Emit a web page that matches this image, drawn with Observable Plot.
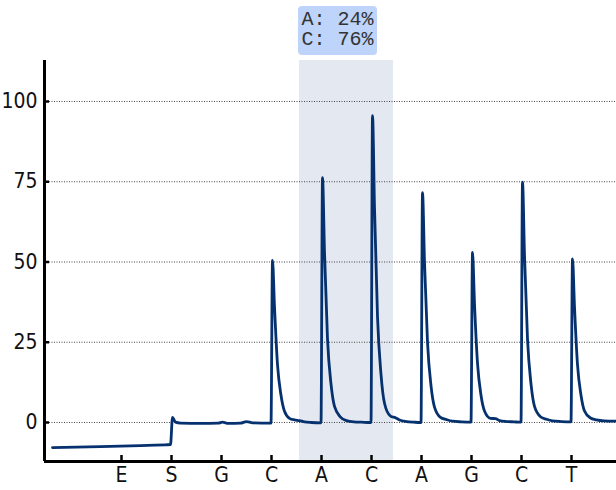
<!DOCTYPE html>
<html>
<head>
<meta charset="utf-8">
<script src="https://cdn.jsdelivr.net/npm/d3@7"></script>
<script src="https://cdn.jsdelivr.net/npm/@observablehq/plot@0.6"></script>
<style>
  html, body { margin: 0; padding: 0; background: #fff; }
  #chart { position: relative; width: 616px; height: 490px; }
  #label {
    position: absolute; top: 6px;
    background: #bed4fa; border-radius: 4px;
    padding: 3.5px 3px 5px 3.5px;
    font-family: "Liberation Mono", "DejaVu Sans Mono", monospace;
    font-size: 20px; line-height: 20px; color: #333;
    white-space: pre;
  }
</style>
</head>
<body>
<div id="chart"></div>
<script>
// Dispensation order (x tick labels), placed at positions 1..10
const dispensations = ["E", "S", "G", "C", "A", "C", "A", "G", "C", "T"];
const tickPositions = [1, 2, 3, 4, 5, 6, 7, 8, 9, 10];
const yTicks = [0, 25, 50, 75, 100];

// Highlighted variable position (A/C) and its allele percentages
const highlight = [{start: 4.56, end: 6.44}];
const alleles = ["A", "C"];
const percents = [24, 76];

// Pyrogram trace: time (dispensation units) and signal
const time = [
  -0.38, 0.58, 1.38, 1.88, 1.98,
  2.02, 2.08, 2.18, 2.58, 2.94, 3.02, 3.14, 3.38, 3.5, 3.62, 3.96,
  3.99, 4.02, 4.06, 4.12, 4.19, 4.26, 4.36, 4.46, 4.56, 4.66, 4.8, 4.98,
  4.99, 5.02, 5.06, 5.12, 5.19, 5.26, 5.38, 5.5, 5.65, 5.8, 5.98,
  5.99, 6.02, 6.06, 6.12, 6.19, 6.26, 6.38, 6.48, 6.56, 6.7, 6.85, 6.98,
  6.99, 7.02, 7.06, 7.12, 7.19, 7.26, 7.38, 7.5, 7.62, 7.8, 7.98,
  7.99, 8.02, 8.06, 8.12, 8.19, 8.26, 8.38, 8.48, 8.56, 8.7, 8.85, 8.98,
  8.99, 9.02, 9.06, 9.12, 9.19, 9.26, 9.38, 9.5, 9.62, 9.8, 9.98,
  9.99, 10.02, 10.06, 10.12, 10.19, 10.26, 10.38, 10.5, 10.65, 10.9
];
const signal = [
  -7.8, -7.5, -7.2, -6.95, -6.9,
  1.6, 0.1, -0.2, -0.3, -0.2, 0.1, -0.3, -0.2, 0.3, -0.1, -0.2,
  -0.2, 50.5, 36, 18, 8.5, 3.5, 1.3, 0.8, 0.6, 0.2, 0.0, -0.1,
  -0.1, 76.3, 53, 26, 12, 5, 1.7, 0.6, 0.2, 0.1, 0.0,
  0.0, 95.6, 67, 33, 15, 6, 2, 1.5, 0.8, 0.3, 0.1, 0.0,
  0.0, 71.6, 50, 25, 11.5, 4.8, 1.6, 0.9, 0.4, 0.2, 0.1,
  0.1, 53, 37, 18.5, 8.5, 3.6, 1.3, 1.2, 0.6, 0.3, 0.2, 0.1,
  0.1, 74.9, 52, 26, 12, 5, 1.8, 1.0, 0.5, 0.3, 0.2,
  0.2, 51, 36, 18, 8.5, 3.6, 1.4, 0.8, 0.5, 0.4
];

const trace = time.map((t, i) => ({t, v: signal[i]}));
const xDomain = [-0.54, 10.9];
const yDomain = [-12.15, 112.77];
const tickFont = "'Liberation Sans Narrow', 'DejaVu Sans Condensed', sans-serif";

const chart = Plot.plot({
  width: 616,
  height: 490,
  marginTop: 60,
  marginBottom: 29,
  marginLeft: 44,
  marginRight: 0,
  style: {background: "#fff", overflow: "visible"},
  x: {domain: xDomain},
  y: {domain: yDomain},
  marks: [
    Plot.rect(highlight, {x1: "start", x2: "end", fill: "#e4e9f1"}),
    Plot.gridY(yTicks, {stroke: "#333", strokeOpacity: 0.9, strokeDasharray: "1,1.5", strokeWidth: 1}),
    Plot.line(trace, {x: "t", y: "v", stroke: "#06316f", strokeWidth: 2.8, curve: "monotone-x"}),
    Plot.ruleX([xDomain[0]], {stroke: "#000", strokeWidth: 3}),
    Plot.ruleY([yDomain[0]], {stroke: "#000", strokeWidth: 2.8}),
    Plot.axisY(yTicks, {
      tickSize: -5, tickPadding: 12, strokeWidth: 2.5, stroke: "#000",
      fontSize: 21, fontFamily: tickFont, fill: "#111", label: null
    }),
    Plot.axisX(tickPositions, {
      tickSize: -6, tickPadding: 12, strokeWidth: 2.5, stroke: "#000",
      tickFormat: (d) => dispensations[d - 1],
      fontSize: 21, fontFamily: tickFont, fill: "#111", label: null
    })
  ]
});

const container = document.getElementById("chart");
container.appendChild(chart);

const lab = document.createElement("div");
lab.id = "label";
lab.textContent = alleles.map((a, i) => `${a}: ${percents[i]}%`).join("\n");
lab.style.left = (chart.scale("x").apply(highlight[0].start) - 1) + "px";
container.appendChild(lab);
</script>
</body>
</html>
